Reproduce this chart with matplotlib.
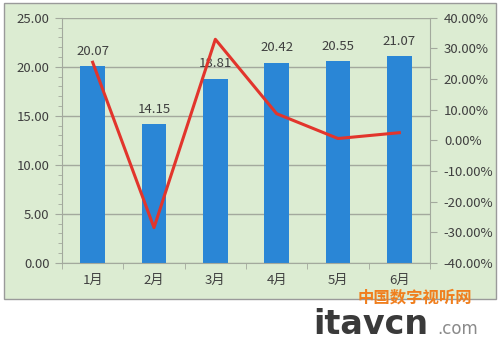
import matplotlib
matplotlib.use("Agg")
import matplotlib.pyplot as plt
from matplotlib.patches import Rectangle
from matplotlib.ticker import MultipleLocator, FuncFormatter

plt.rcParams['font.family'] = ['Noto Sans CJK SC', 'DejaVu Sans']

months = ['1月', '2月', '3月', '4月', '5月', '6月']
sales = [20.07, 14.15, 18.81, 20.42, 20.55, 21.07]
growth = [25.5, -28.5, 33.0, 8.7, 0.6, 2.5]  # percent

bg = '#dcecd2'
bar_color = '#2a86d6'
line_color = '#e2352c'
text_color = '#3f3f3f'
grid_color = '#a3a99d'

fig = plt.figure(figsize=(5, 3.5), dpi=100)
fig.patch.set_facecolor('white')

frame = Rectangle((0.008, 0.146), 0.984, 0.845, transform=fig.transFigure,
                  facecolor=bg, edgecolor='#9a9a9a', linewidth=1.0, zorder=-10)
fig.patches.append(frame)

ax = fig.add_axes([0.124, 0.249, 0.736, 0.700])
ax.set_facecolor('none')
x = list(range(len(months)))
ax.bar(x, sales, width=0.4, color=bar_color, zorder=2)
ax.set_xlim(-0.5, len(months) - 0.5)
ax.set_ylim(0, 25)
ax.yaxis.set_major_locator(MultipleLocator(5))
ax.yaxis.set_minor_locator(MultipleLocator(1))
ax.yaxis.set_major_formatter(FuncFormatter(lambda v, p: f'{v:.2f}'))
ax.grid(axis='y', color=grid_color, linewidth=1.0, zorder=0)
ax.set_axisbelow(True)
for s in ['top', 'right']:
    ax.spines[s].set_visible(False)
ax.spines['left'].set_color(grid_color)
ax.spines['bottom'].set_color(grid_color)
ax.set_xticks(x)
ax.set_xticklabels(months)
ax.set_xticks([i + 0.5 for i in range(-1, len(months))], minor=True)
ax.tick_params(axis='x', which='major', length=0, pad=8, labelsize=9.5, colors=text_color)
ax.tick_params(axis='x', which='minor', length=4, color=grid_color)
ax.tick_params(axis='y', which='major', length=5, color=grid_color, labelsize=9.5,
               labelcolor=text_color, pad=4)
ax.tick_params(axis='y', which='minor', length=3, color=grid_color)

for xi, v in zip(x, sales):
    ax.annotate(f'{v:.2f}', (xi, v), xytext=(0, 6), textcoords='offset points',
                ha='center', va='bottom', fontsize=9.5, color=text_color, zorder=4)

ax2 = ax.twinx()
ax2.plot(x, growth, color=line_color, linewidth=2.2, zorder=3)
ax2.set_ylim(-40, 40)
ax2.yaxis.set_major_locator(MultipleLocator(10))
ax2.yaxis.set_major_formatter(FuncFormatter(lambda v, p: f'{v:.2f}%'))
for s in ['top', 'left', 'bottom']:
    ax2.spines[s].set_visible(False)
ax2.spines['right'].set_color(grid_color)
ax2.tick_params(axis='y', length=5, color=grid_color, labelsize=9.5,
                labelcolor=text_color, pad=5)

# watermark
fig.text(0.716, 0.151, '中国数字视听网', color='#f07f1e', fontsize=11.8,
         fontweight='bold', ha='left', va='center', style='italic')
fig.text(0.626, 0.045, 'itavcn', color='#3a3a3a', fontsize=24, fontweight='bold',
         ha='left', va='baseline', family=['DejaVu Sans'])
fig.text(0.874, 0.045, '.com', color='#8a8a8a', fontsize=12,
         ha='left', va='baseline', family=['DejaVu Sans'])

fig.savefig('out.png', dpi=100, facecolor='white')
